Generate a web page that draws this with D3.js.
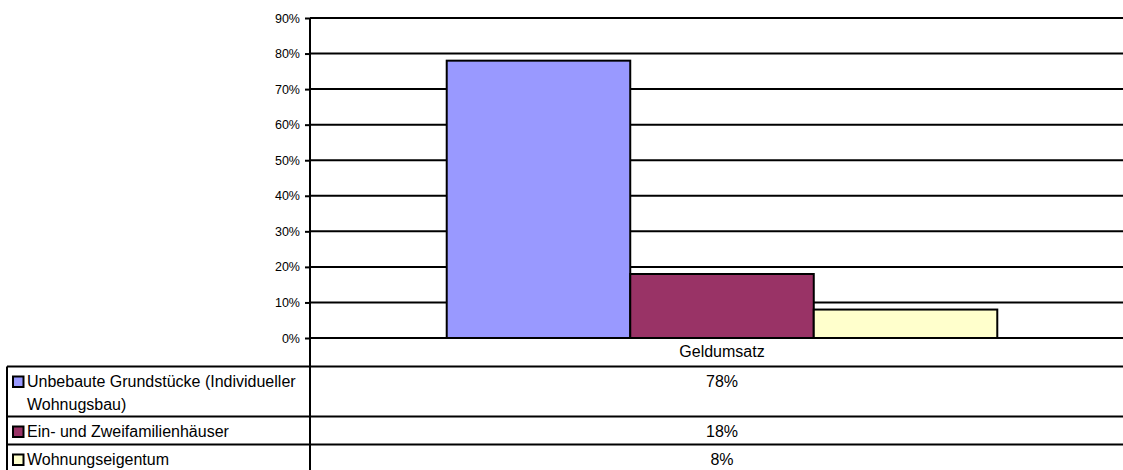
<!DOCTYPE html>
<html>
<head>
<meta charset="utf-8">
<script src="https://cdn.jsdelivr.net/npm/d3@7"></script>
<style>
  body { margin: 0; background: #fff; }
  svg { display: block; font-family: "Liberation Sans", Arial, sans-serif; }
</style>
</head>
<body>
<div id="chart"></div>
<script>
const categories = ["Geldumsatz"];
const seriesNames = [
  ["Unbebaute Grundstücke (Individueller", "Wohnugsbau)"],
  ["Ein- und Zweifamilienhäuser"],
  ["Wohnungseigentum"]
];
const seriesValues = [0.78, 0.18, 0.08];
const seriesColors = ["#9999FF", "#993366", "#FFFFCC"];
const yTicks = [0, 0.1, 0.2, 0.3, 0.4, 0.5, 0.6, 0.7, 0.8, 0.9];

const w = 1123;
const h = 470;
const plotLeft = 310;
const plotRight = 1134; // plot runs past the visible edge
const plotTop = 18;
const plotBottom = 338;
const rowLines = [366.5, 416.5, 444.5];
const tableLeft = 7;

const svg = d3.select("#chart")
  .append("svg")
  .attr("width", w)
  .attr("height", h);

const yScale = d3.scaleLinear()
  .domain([0, 0.9])
  .range([plotBottom, plotTop]);

const x0 = d3.scaleBand()
  .domain(categories)
  .range([plotLeft, plotRight]);

const x1 = d3.scaleBand()
  .domain(d3.range(seriesValues.length))
  .range([0, x0.bandwidth()])
  .paddingOuter(0.745);

// gridlines
svg.append("g")
  .selectAll("line")
  .data(yTicks)
  .enter()
  .append("line")
  .attr("x1", plotLeft)
  .attr("x2", w)
  .attr("y1", d => yScale(d))
  .attr("y2", d => yScale(d))
  .attr("stroke", "#000")
  .attr("stroke-width", 2);

// bars
svg.append("g")
  .selectAll("rect")
  .data(seriesValues)
  .enter()
  .append("rect")
  .attr("x", (d, i) => x0(categories[0]) + x1(i))
  .attr("y", d => yScale(d))
  .attr("width", x1.bandwidth())
  .attr("height", d => plotBottom - yScale(d))
  .attr("fill", (d, i) => seriesColors[i])
  .attr("stroke", "#000")
  .attr("stroke-width", 2);

// y axis
const yAxis = d3.axisLeft(yScale)
  .tickValues(yTicks)
  .tickSize(5)
  .tickFormat(d3.format(".0%"));

svg.append("g")
  .attr("transform", "translate(" + plotLeft + ",0)")
  .call(yAxis)
  .call(g => g.select(".domain").remove())
  .call(g => g.selectAll(".tick line").attr("stroke-width", 2))
  .call(g => g.selectAll("text")
    .attr("x", -10)
    .attr("font-size", 12.5)
    .attr("font-family", "Liberation Sans, Arial, sans-serif")
    .attr("fill", "#000"));

// axis line running through the table
svg.append("line")
  .attr("x1", plotLeft).attr("x2", plotLeft)
  .attr("y1", plotTop).attr("y2", h)
  .attr("stroke", "#000")
  .attr("stroke-width", 2);

// data table
svg.append("g")
  .selectAll("line")
  .data(rowLines)
  .enter()
  .append("line")
  .attr("x1", tableLeft)
  .attr("x2", w)
  .attr("y1", d => d)
  .attr("y2", d => d)
  .attr("stroke", "#000")
  .attr("stroke-width", 2);

svg.append("line")
  .attr("x1", tableLeft).attr("x2", tableLeft)
  .attr("y1", rowLines[0]).attr("y2", h)
  .attr("stroke", "#000")
  .attr("stroke-width", 2);

const valueX = x0(categories[0]) + x0.bandwidth() / 2;

svg.append("text")
  .attr("x", valueX)
  .attr("y", 357)
  .attr("text-anchor", "middle")
  .attr("font-size", 16)
  .text(categories[0]);

const rowBaselines = [387, 437, 465];
const pct = d3.format(".0%");

svg.append("g")
  .selectAll("text")
  .data(seriesValues)
  .enter()
  .append("text")
  .attr("x", valueX)
  .attr("y", (d, i) => rowBaselines[i])
  .attr("text-anchor", "middle")
  .attr("font-size", 16)
  .text(d => pct(d));

// legend keys
const legend = svg.append("g");
seriesNames.forEach((lines, i) => {
  legend.append("rect")
    .attr("x", 13)
    .attr("y", rowBaselines[i] - 10.5)
    .attr("width", 10.5)
    .attr("height", 10.5)
    .attr("fill", seriesColors[i])
    .attr("stroke", "#000")
    .attr("stroke-width", 2);
  lines.forEach((t, j) => {
    legend.append("text")
      .attr("x", 27)
      .attr("y", rowBaselines[i] + j * 22.5)
      .attr("font-size", 16)
      .text(t);
  });
});
</script>
</body>
</html>
